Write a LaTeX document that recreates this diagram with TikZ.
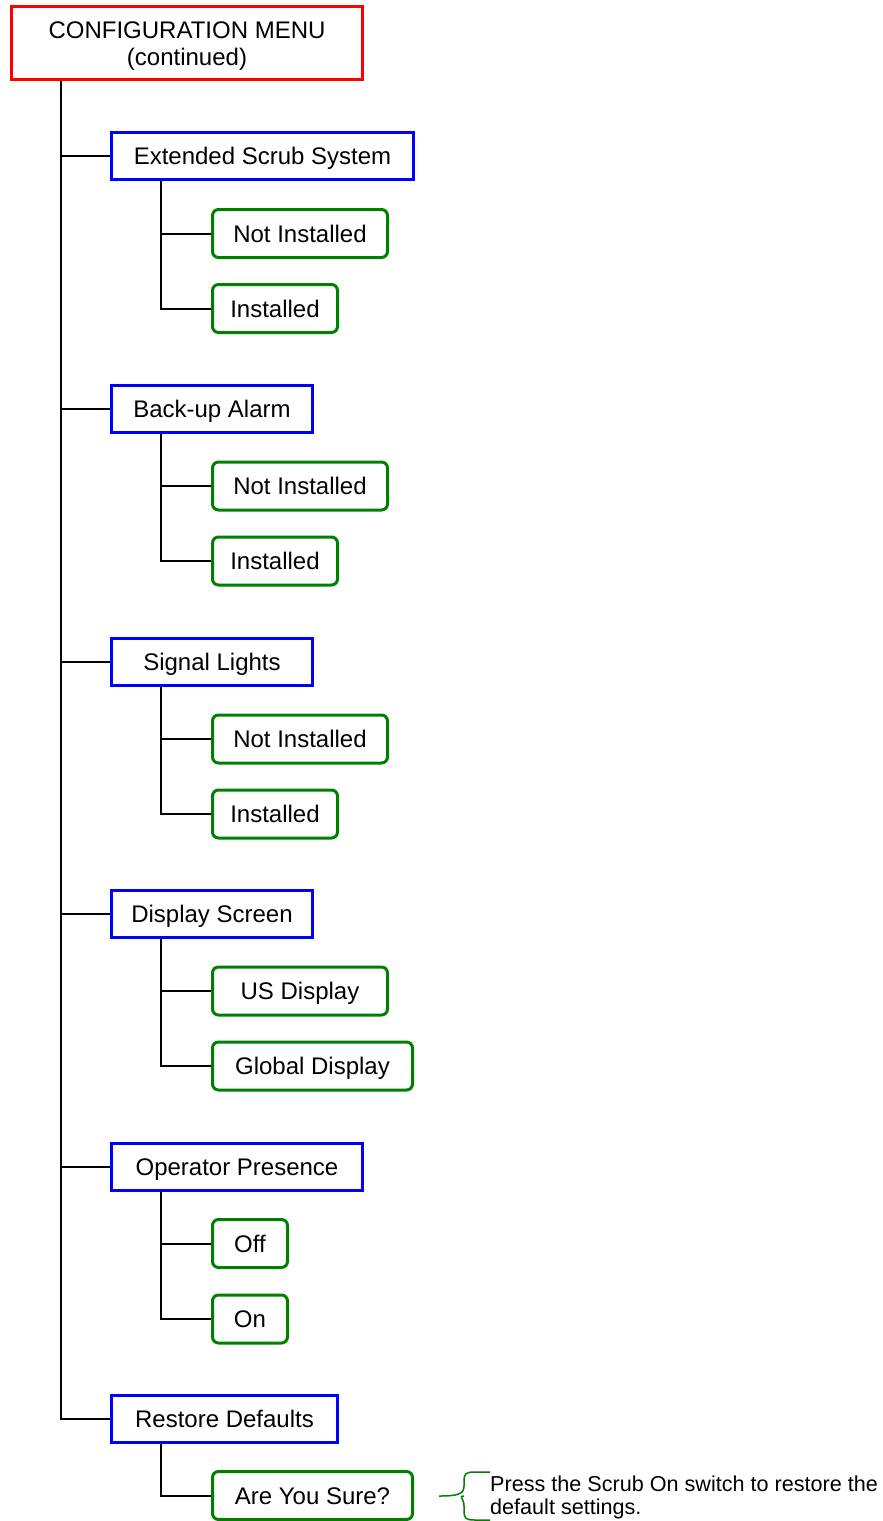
\documentclass[tikz,border=0pt]{standalone}
\usepackage{fontspec}
\setmainfont{Liberation Sans}
\definecolor{redc}{RGB}{255,0,0}
\definecolor{bluec}{RGB}{0,0,255}
\definecolor{greenc}{RGB}{0,128,0}
\begin{document}
\begin{tikzpicture}[x=1pt,y=-1pt,
  base/.style={line width=3pt, inner sep=0pt, font=\fontsize{24}{28}\selectfont},
  single/.style={text height=17.2pt, text depth=0pt},
  redbox/.style={base, draw=redc, minimum width=351pt, minimum height=73pt, align=center},
  bluebox/.style={base, single, draw=bluec, minimum height=47pt, anchor=west},
  greenbox/.style={base, single, draw=greenc, rounded corners=6pt, minimum height=48pt, anchor=west},
  conn/.style={line width=2pt, black},
  note/.style={font=\fontsize{21.6}{23}\selectfont, align=left, anchor=west, inner sep=0pt}
]
\useasboundingbox (0,0) rectangle (883,1521);
\node[redbox] (top) at (187,43) {\raisebox{-3.5pt}[\height][\depth]{\begin{tabular}{@{}c@{}}CONFIGURATION MENU\\[-1pt](continued)\end{tabular}}};

% Extended Scrub System
\node[bluebox, minimum width=302pt] (b1) at (110,156) {Extended Scrub System};
\node[greenbox, minimum width=175pt] (g11) at (211,233.5) {Not Installed};
\node[greenbox, minimum width=125pt] (g12) at (211,308.5) {Installed};

% Back-up Alarm
\node[bluebox, minimum width=201pt] (b2) at (110,409) {Back-up Alarm};
\node[greenbox, minimum width=175pt] (g21) at (211,486) {Not Installed};
\node[greenbox, minimum width=125pt] (g22) at (211,561) {Installed};

% Signal Lights
\node[bluebox, minimum width=201pt] (b3) at (110,662) {Signal Lights};
\node[greenbox, minimum width=175pt] (g31) at (211,739) {Not Installed};
\node[greenbox, minimum width=125pt] (g32) at (211,814) {Installed};

% Display Screen
\node[bluebox, minimum width=201pt] (b4) at (110,914) {Display Screen};
\node[greenbox, minimum width=175pt] (g41) at (211,991) {US Display};
\node[greenbox, minimum width=200pt] (g42) at (211,1066) {Global Display};

% Operator Presence
\node[bluebox, minimum width=251pt] (b5) at (110,1167) {Operator Presence};
\node[greenbox, minimum width=75pt] (g51) at (211,1243.5) {Off};
\node[greenbox, minimum width=75pt] (g52) at (211,1319) {On};

% Restore Defaults
\node[bluebox, minimum width=226pt] (b6) at (110,1419) {Restore Defaults};
\node[greenbox, minimum width=200pt] (g61) at (211,1495.5) {Are You Sure?};

% trunk
\foreach \b in {b1,b2,b3,b4,b5,b6}
  \draw[conn] ([xshift=-126pt]top.south) |- (\b.west);

% sub branches
\foreach \b/\g in {b1/g11,b1/g12,b2/g21,b2/g22,b3/g31,b3/g32,b4/g41,b4/g42,b5/g51,b5/g52,b6/g61}
  \draw[conn] ([xshift=51pt]\b.south west) |- (\g.west);

% brace note
\draw[greenc, line width=1.5pt]
  (490,1472) -- (475,1472) .. controls (465,1472) and (464,1474) .. (464,1482)
  -- (464,1486) .. controls (464,1494) and (458,1496) .. (439,1496)
  (464,1496) .. controls (458,1496) and (464,1498) .. (464,1506)
  -- (464,1510) .. controls (464,1518) and (465,1520) .. (475,1520) -- (490,1520);
\node[note] (nt) at (490,1497.5) {Press the Scrub On switch to restore the\\default settings.};
\end{tikzpicture}
\end{document}
